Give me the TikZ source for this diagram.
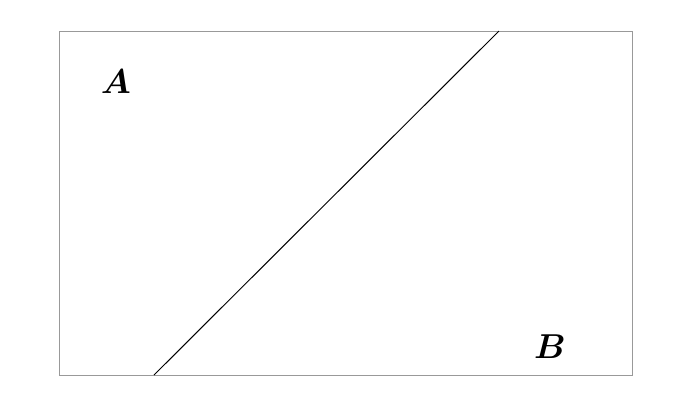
\documentclass[tikz,border=0pt]{standalone}
\begin{document}
\begin{tikzpicture}[x=0.5pt,y=-0.5pt,
  boxline/.style={draw=black!40, line width=0.5pt},
  divline/.style={draw=black, line width=0.5pt},
  lbl/.style={font=\LARGE\boldmath, inner sep=0pt}]
\useasboundingbox (0,0) rectangle (681,414);
\coordinate (tl) at (59,31);
\coordinate (br) at (632,375);
\draw[boxline] (tl) rectangle (br);
\coordinate (lowpt) at (154,375);
\coordinate (highpt) at (499,31);
\draw[divline] (lowpt) -- (highpt);
\node[lbl] (labA) at (116,82) {$A$};
\node[lbl] (labB) at (550,347) {$B$};
\end{tikzpicture}
\end{document}
